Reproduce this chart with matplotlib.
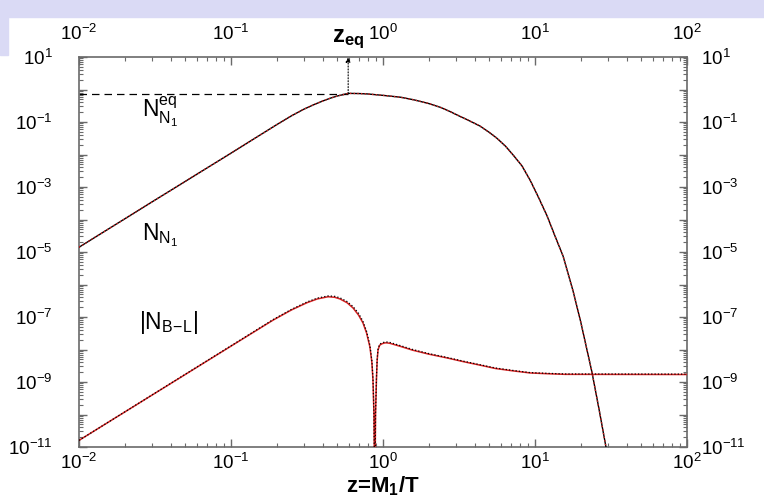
import matplotlib
matplotlib.use("Agg")
import matplotlib.pyplot as plt
from matplotlib.patches import Rectangle
from matplotlib.ticker import LogLocator, FixedLocator, FuncFormatter, NullFormatter, NullLocator
import numpy as np

plt.rcParams['font.family'] = ['Liberation Sans', 'DejaVu Sans']
plt.rcParams['mathtext.fontset'] = 'custom'
plt.rcParams['mathtext.rm'] = 'Liberation Sans'
plt.rcParams['mathtext.it'] = 'Liberation Sans'
plt.rcParams['mathtext.bf'] = 'Liberation Sans:bold'

# N_N1 (equal to N_N1^eq after z_eq)
z_n = [0.01, 0.03, 0.1, 0.2, 0.25, 0.3, 0.35, 0.4, 0.45, 0.5, 0.55, 0.59, 0.7, 0.79,
       1.0, 1.3, 1.6, 2.0, 2.4, 2.76, 3.2, 3.55, 4.35, 5.0, 5.6, 6.4, 7.2, 8.2, 9.3,
       10.5, 12.0, 13.5, 15.3, 17.8, 20.0, 23.7, 26.5, 29.3, 31.6]
n_n1 = [1.4e-5, 3.4e-4, 1.1e-2, 8.3e-2, 0.155, 0.245, 0.34, 0.44, 0.54, 0.63, 0.70,
        0.76, 0.75, 0.73, 0.66, 0.58, 0.48, 0.37, 0.28, 0.21, 0.15, 0.12, 0.075,
        0.048, 0.032, 0.018, 9.5e-3, 4.5e-3, 1.6e-3, 5e-4, 1.3e-4, 3.2e-5, 7.5e-6,
        6.3e-7, 7e-8, 2.0e-9, 1.3e-10, 1e-11, 1e-12]

# |N_B-L|, two runs (red solid, black dotted)
z_bl = [0.01, 0.1, 0.189, 0.25, 0.316, 0.37, 0.435, 0.48, 0.521, 0.58, 0.635, 0.69,
        0.738, 0.78, 0.82, 0.845, 0.859, 0.872, 0.883, 0.893, 0.906, 0.915, 0.927,
        0.95, 0.984, 1.03, 1.06, 1.11, 1.3, 1.57, 2.0, 2.64, 3.4, 4.35, 5.5, 7.16,
        9.27, 12.0, 15.8, 100.0]
nbl_a = [1.6e-11, 1.27e-8, 8.0e-8, 1.65e-7, 2.75e-7, 3.6e-7, 4.2e-7, 4.05e-7, 3.6e-7,
         2.75e-7, 1.9e-7, 1.15e-7, 6.6e-8, 3.2e-8, 1.2e-8, 4e-9, 1.15e-9, 1e-10, 1e-13,
         1e-10, 1.3e-9, 4.5e-9, 9.5e-9, 1.35e-8, 1.5e-8, 1.6e-8, 1.6e-8, 1.55e-8,
         1.25e-8, 9.5e-9, 7.2e-9, 5.5e-9, 4.2e-9, 3.3e-9, 2.6e-9, 2.2e-9, 1.9e-9,
         1.8e-9, 1.72e-9, 1.7e-9]
nbl_b = [1.6e-11, 1.3e-8, 8.3e-8, 1.72e-7, 2.9e-7, 3.82e-7, 4.45e-7, 4.33e-7, 3.9e-7,
         3.0e-7, 2.1e-7, 1.3e-7, 7.4e-8, 3.6e-8, 1.35e-8, 4.5e-9, 1.3e-9, 1.1e-10,
         1e-13, 1.1e-10, 1.4e-9, 4.9e-9, 1.02e-8, 1.45e-8, 1.6e-8, 1.7e-8, 1.7e-8,
         1.65e-8, 1.32e-8, 1.0e-8, 7.5e-9, 5.7e-9, 4.35e-9, 3.4e-9, 2.7e-9, 2.27e-9,
         1.95e-9, 1.85e-9, 1.77e-9, 1.75e-9]

x_ticks = [1e-2, 1e-1, 1e0, 1e1, 1e2]
y_ticks = [1e1, 1e-1, 1e-3, 1e-5, 1e-7, 1e-9, 1e-11]

z_eq = 0.59
n_eq_low = 0.75

fig = plt.figure(figsize=(7.64, 4.98), dpi=100)
fig.patches.append(Rectangle((0, 1 - 17/498), 1, 17/498, transform=fig.transFigure,
                             color='#dadaf5', zorder=-1))
fig.patches.append(Rectangle((0, 1 - 55/498), 8/764, 38/498, transform=fig.transFigure,
                             color='#dadaf5', zorder=-1))

ax = fig.add_axes([79/764, 1 - 447/498, 608/764, 390/498])
ax.set_xscale('log')
ax.set_yscale('log')
ax.set_xlim(1e-2, 1e2)
ax.set_ylim(1e-11, 1e1)

ax.plot(z_n, n_n1, color='black', lw=1.0, zorder=3)
ax.plot(z_n, n_n1, color='#d62020', lw=1.0, ls=':', zorder=4)
ax.plot(z_bl, nbl_a, color='#d62020', lw=1.1, zorder=3)
ax.plot(z_bl, nbl_b, color='black', lw=0.9, ls=':', zorder=4)
ax.plot([1e-2, z_eq], [n_eq_low, n_eq_low], color='black', lw=0.9, ls=(0, (6, 4)))
ax.annotate('', xy=(z_eq, 10), xytext=(z_eq, n_eq_low),
            arrowprops=dict(arrowstyle='-|>', lw=0.8, ls=':', color='black',
                            mutation_scale=7, shrinkA=0, shrinkB=0))

ax.text(0.026, 0.2, r'N$_{N_1}^{eq}$', fontsize=16.5, va='center')
ax.text(0.026, 3.3e-5, r'N$_{N_1}$', fontsize=16.5, va='center')
ax.text(0.025, 7e-8, r'|N$_{B\!-\!L}$|', fontsize=16.5, va='center')
ax.text(z_eq, 1.015, r'$\mathbf{z_{eq}}$', fontsize=17, ha='center', va='bottom',
        transform=ax.get_xaxis_transform())

def yfmt(v, pos):
    e = int(round(np.log10(v)))
    return r'$10^{%d}$' % e if e % 2 else ''

def xfmt(v, pos):
    e = int(round(np.log10(v)))
    return r'$10^{%d}$' % e

for a in (ax.xaxis, ax.yaxis):
    a.set_major_locator(LogLocator(base=10, numticks=30))
    a.set_minor_locator(LogLocator(base=10, subs=np.arange(2, 10), numticks=100))
    a.set_minor_formatter(NullFormatter())
ax.yaxis.set_major_formatter(FuncFormatter(yfmt))
ax.xaxis.set_major_formatter(FuncFormatter(xfmt))

lab = 13.5
gray = '#6a6a6a'
for s in ax.spines.values():
    s.set_color(gray)
    s.set_linewidth(1.2)
ax.tick_params(which='both', direction='in', color=gray, top=True, right=True,
               labelsize=lab)
ax.tick_params(which='major', length=6, width=1)
ax.tick_params(which='minor', length=3, width=0.8)
ax.tick_params(axis='y', which='major', pad=19)
ax.tick_params(axis='x', which='major', pad=4)

# labels on the top and right sides
topx = ax.secondary_xaxis('top')
topx.xaxis.set_major_locator(FixedLocator(x_ticks))
topx.xaxis.set_minor_locator(NullLocator())
topx.xaxis.set_major_formatter(FuncFormatter(xfmt))
topx.tick_params(which='both', length=0, pad=9, labelsize=lab)
topx.spines['top'].set_visible(False)

righty = ax.secondary_yaxis('right')
righty.yaxis.set_major_locator(FixedLocator(y_ticks))
righty.yaxis.set_minor_locator(NullLocator())
righty.yaxis.set_major_formatter(FuncFormatter(yfmt))
righty.tick_params(which='both', length=0, pad=10, labelsize=lab)
righty.spines['right'].set_visible(False)

ax.set_xlabel(r'z=M$_\mathbf{1}$/T', fontsize=16, fontweight='bold', labelpad=1)

fig.savefig('out.png', dpi=100)
